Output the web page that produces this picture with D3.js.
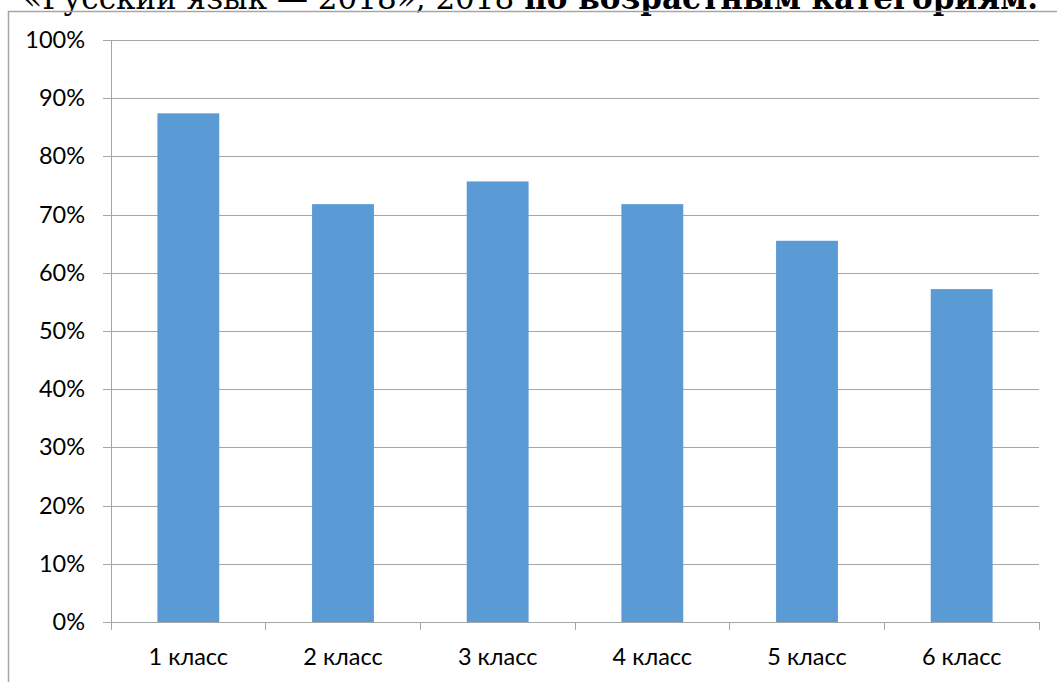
<!DOCTYPE html>
<html>
<head>
<meta charset="utf-8">
<script src="https://cdn.jsdelivr.net/npm/d3@7"></script>
<style>
  html, body { margin: 0; padding: 0; background: #fff; overflow: hidden; }
  svg { display: block; }
</style>
</head>
<body>
<svg id="chart" width="1057" height="682"></svg>
<script>
const categories = ["1 класс", "2 класс", "3 класс", "4 класс", "5 класс", "6 класс"];
const values = [0.874, 0.718, 0.757, 0.718, 0.655, 0.572];
const yTicks = [0, 0.1, 0.2, 0.3, 0.4, 0.5, 0.6, 0.7, 0.8, 0.9, 1.0];
const titleRegular = "«Русский язык — 2018», 2018 ";
const titleBold = "по возрастным категориям.";

const W = 1057, H = 682;
const plot = { left: 111, right: 1039, top: 40, bottom: 622 };
const labelFont = "Lato, 'Open Sans', sans-serif";
const labelSize = 23.5;
const gridColor = "#a6a6a6";

const svg = d3.select("#chart");

// Title line (cut off at top of picture, as in the source document)
const title = svg.append("text")
  .attr("x", 1038).attr("y", 9)
  .attr("text-anchor", "end")
  .attr("font-family", "'DejaVu Serif', 'Liberation Serif', serif")
  .attr("font-size", 31)
  .attr("fill", "#000");
title.append("tspan").text(titleRegular);
title.append("tspan").attr("font-weight", "bold").text(titleBold);

// Chart frame
svg.append("rect")
  .attr("x", 8.5).attr("y", 11.5)
  .attr("width", W + 10).attr("height", H + 10)
  .attr("fill", "none")
  .attr("stroke", gridColor)
  .attr("stroke-width", 1.5);

const y = d3.scaleLinear().domain([0, 1]).range([plot.bottom, plot.top]);
const x = d3.scaleBand().domain(categories).range([plot.left, plot.right])
  .paddingInner(0.6).paddingOuter(0.3);
const xb = d3.scaleBand().domain(categories).range([plot.left, plot.right]).padding(0);

// Gridlines
svg.append("g")
  .attr("transform", `translate(${plot.left},0)`)
  .call(d3.axisLeft(y).tickValues(yTicks).tickSize(-(plot.right - plot.left)).tickFormat(""))
  .call(g => g.select(".domain").remove())
  .call(g => g.selectAll("line").attr("stroke", gridColor).attr("shape-rendering", "crispEdges"));

// Bars
svg.append("g").selectAll("rect")
  .data(values)
  .join("rect")
  .attr("x", (d, i) => x(categories[i]))
  .attr("width", x.bandwidth())
  .attr("y", d => y(d))
  .attr("height", d => y(0) - y(d))
  .attr("fill", "#5b9bd5");

// Y axis
svg.append("g")
  .attr("transform", `translate(${plot.left},0)`)
  .call(d3.axisLeft(y).tickValues(yTicks).tickSize(8).tickPadding(18).tickFormat(d3.format(".0%")))
  .call(g => g.select(".domain").attr("stroke", gridColor).attr("shape-rendering", "crispEdges"))
  .call(g => g.selectAll("line").attr("stroke", gridColor).attr("shape-rendering", "crispEdges"))
  .call(g => g.selectAll("text")
    .attr("font-family", labelFont).attr("font-size", labelSize).attr("fill", "#000"));

// X axis: domain line + boundary ticks
const xg = svg.append("g").attr("transform", `translate(0,${plot.bottom})`);
xg.append("line")
  .attr("x1", plot.left).attr("x2", plot.right)
  .attr("y1", 0).attr("y2", 0)
  .attr("stroke", gridColor).attr("shape-rendering", "crispEdges");
const bounds = categories.map(c => xb(c)).concat([xb(categories[categories.length - 1]) + xb.step()]);
xg.selectAll("line.tick").data(bounds).join("line")
  .attr("class", "tick")
  .attr("x1", d => d).attr("x2", d => d)
  .attr("y1", 0).attr("y2", 8)
  .attr("stroke", gridColor).attr("shape-rendering", "crispEdges");

svg.append("g")
  .attr("transform", `translate(0,${plot.bottom})`)
  .call(d3.axisBottom(xb).tickSize(0).tickPadding(0))
  .call(g => g.select(".domain").remove())
  .call(g => g.selectAll("text")
    .attr("y", 43).attr("dy", 0)
    .attr("font-family", labelFont).attr("font-size", labelSize).attr("fill", "#000"));
</script>
</body>
</html>
